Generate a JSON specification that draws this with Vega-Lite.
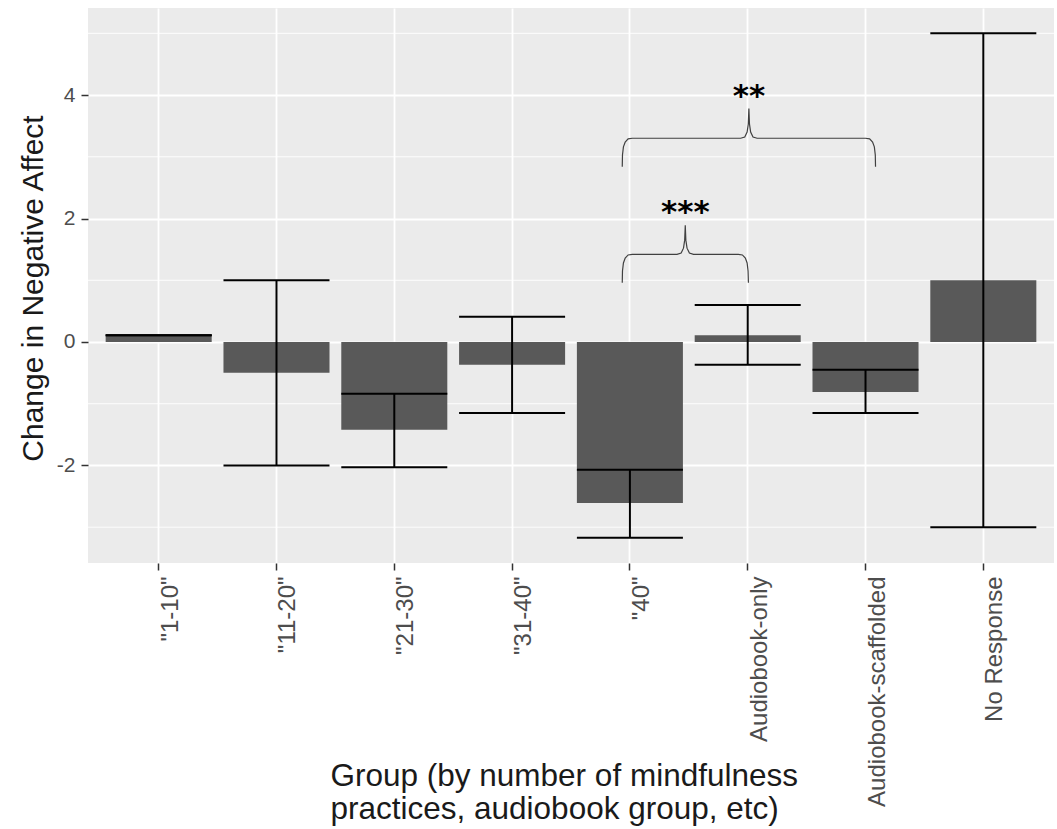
{
  "$schema": "https://vega.github.io/schema/vega-lite/v6.json",
  "width": 966,
  "height": 555,
  "autosize": {"type": "none"},
  "padding": {"left": 88, "top": 8, "right": 3, "bottom": 266},
  "background": "white",
  "config": {"view": {"fill": "#EBEBEB", "stroke": null}, "font": "Liberation Sans"},
  "datasets": {
    "groups": [
      {"group": "\"1-10\"", "mean": 0.12, "lo": 0.11, "hi": 0.11},
      {"group": "\"11-20\"", "mean": -0.5, "lo": -2.0, "hi": 1.0},
      {"group": "\"21-30\"", "mean": -1.42, "lo": -2.03, "hi": -0.84},
      {"group": "\"31-40\"", "mean": -0.37, "lo": -1.15, "hi": 0.41},
      {"group": "\"40\"", "mean": -2.61, "lo": -3.17, "hi": -2.07},
      {"group": "Audiobook-only", "mean": 0.11, "lo": -0.37, "hi": 0.6},
      {"group": "Audiobook-scaffolded", "mean": -0.81, "lo": -1.15, "hi": -0.45},
      {"group": "No Response", "mean": 1.0, "lo": -3.0, "hi": 5.0}
    ],
    "minor": [{"y": -3}, {"y": -1}, {"y": 1}, {"y": 3}, {"y": 5}],
    "brackets": [
      {"pair": "a", "x": 4.935, "y": 0.96},
      {"pair": "a", "x": 4.937, "y": 1.15},
      {"pair": "a", "x": 4.945, "y": 1.28},
      {"pair": "a", "x": 4.96, "y": 1.36},
      {"pair": "a", "x": 4.985, "y": 1.41},
      {"pair": "a", "x": 5.02, "y": 1.42},
      {"pair": "a", "x": 5.4, "y": 1.42},
      {"pair": "a", "x": 5.435, "y": 1.44},
      {"pair": "a", "x": 5.455, "y": 1.52},
      {"pair": "a", "x": 5.465, "y": 1.65},
      {"pair": "a", "x": 5.47, "y": 1.89},
      {"pair": "a", "x": 5.475, "y": 1.65},
      {"pair": "a", "x": 5.485, "y": 1.52},
      {"pair": "a", "x": 5.505, "y": 1.44},
      {"pair": "a", "x": 5.54, "y": 1.42},
      {"pair": "a", "x": 5.92, "y": 1.42},
      {"pair": "a", "x": 5.955, "y": 1.41},
      {"pair": "a", "x": 5.98, "y": 1.36},
      {"pair": "a", "x": 5.995, "y": 1.28},
      {"pair": "a", "x": 6.003, "y": 1.15},
      {"pair": "a", "x": 6.006, "y": 0.96},
      {"pair": "b", "x": 4.935, "y": 2.84},
      {"pair": "b", "x": 4.937, "y": 3.03},
      {"pair": "b", "x": 4.945, "y": 3.16},
      {"pair": "b", "x": 4.96, "y": 3.24},
      {"pair": "b", "x": 4.985, "y": 3.29},
      {"pair": "b", "x": 5.02, "y": 3.3},
      {"pair": "b", "x": 5.94, "y": 3.3},
      {"pair": "b", "x": 5.975, "y": 3.32},
      {"pair": "b", "x": 5.995, "y": 3.4},
      {"pair": "b", "x": 6.005, "y": 3.53},
      {"pair": "b", "x": 6.01, "y": 3.78},
      {"pair": "b", "x": 6.015, "y": 3.53},
      {"pair": "b", "x": 6.025, "y": 3.4},
      {"pair": "b", "x": 6.045, "y": 3.32},
      {"pair": "b", "x": 6.08, "y": 3.3},
      {"pair": "b", "x": 7.0, "y": 3.3},
      {"pair": "b", "x": 7.035, "y": 3.29},
      {"pair": "b", "x": 7.06, "y": 3.24},
      {"pair": "b", "x": 7.075, "y": 3.16},
      {"pair": "b", "x": 7.083, "y": 3.03},
      {"pair": "b", "x": 7.085, "y": 2.84}
    ],
    "stars": [
      {"label": "***", "x": 5.47, "y": 1.94},
      {"label": "**", "x": 6.01, "y": 3.83}
    ]
  },
  "resolve": {"scale": {"x": "independent"}},
  "layer": [
    {
      "layer": [
        {
          "data": {"name": "minor"},
          "mark": {"type": "rule", "color": "white", "strokeWidth": 0.9},
          "encoding": {
            "y": {"field": "y", "type": "quantitative", "scale": {"domain": [-3.58, 5.41], "nice": false, "zero": false}}
          }
        },
        {
          "data": {"name": "groups"},
          "mark": {"type": "bar", "color": "#595959"},
          "encoding": {
            "x": {
              "field": "group", "type": "nominal", "sort": null,
              "scale": {"paddingInner": 0.1, "paddingOuter": 0.15},
              "axis": {
                "labelAngle": 270, "labelAlign": "right", "labelBaseline": "top",
                "labelFontSize": 24, "labelColor": "#4D4D4D", "labelPadding": 6, "labelLimit": 400, "labelOverlap": false,
                "tickSize": 7, "tickColor": "#333333", "tickWidth": 1.5,
                "domain": false, "grid": true, "gridColor": "white", "gridWidth": 1.8,
                "title": ["Group (by number of mindfulness", "practices, audiobook group, etc)"],
                "titleFontSize": 31.5, "titleFontWeight": "normal", "titleColor": "#1A1A1A",
                "titleAlign": "left", "titleBaseline": "alphabetic", "titleAngle": 0,
                "titleX": 242, "titleY": 222, "titleLineHeight": 33
              }
            },
            "y": {
              "field": "mean", "type": "quantitative",
              "scale": {"domain": [-3.58, 5.41], "nice": false, "zero": false},
              "axis": {
                "values": [-2, 0, 2, 4],
                "labelExpr": "'' + datum.value",
                "labelFontSize": 21, "labelColor": "#4D4D4D", "labelPadding": 6,
                "tickSize": 7, "tickColor": "#333333", "tickWidth": 1.5,
                "domain": false, "grid": true, "gridColor": "white", "gridWidth": 1.8,
                "title": "Change in Negative Affect",
                "titleFontSize": 30, "titleFontWeight": "normal", "titleColor": "#1A1A1A",
                "titleAngle": 270, "titleAlign": "center", "titleBaseline": "alphabetic",
                "titleX": -46, "titleY": 280
              }
            }
          }
        },
        {
          "data": {"name": "groups"},
          "mark": {"type": "rule", "color": "black", "strokeWidth": 2},
          "encoding": {
            "x": {"field": "group", "type": "nominal", "sort": null},
            "y": {"field": "lo", "type": "quantitative"},
            "y2": {"field": "hi"}
          }
        },
        {
          "data": {"name": "groups"},
          "mark": {"type": "tick", "color": "black", "thickness": 2, "size": 106, "orient": "horizontal", "opacity": 1},
          "encoding": {
            "x": {"field": "group", "type": "nominal", "sort": null},
            "y": {"field": "lo", "type": "quantitative"}
          }
        },
        {
          "data": {"name": "groups"},
          "mark": {"type": "tick", "color": "black", "thickness": 2, "size": 106, "orient": "horizontal", "opacity": 1},
          "encoding": {
            "x": {"field": "group", "type": "nominal", "sort": null},
            "y": {"field": "hi", "type": "quantitative"}
          }
        }
      ]
    },
    {
      "layer": [
        {
          "data": {"name": "brackets"},
          "mark": {"type": "line", "color": "#404040", "strokeWidth": 1.2},
          "encoding": {
            "x": {"field": "x", "type": "quantitative", "scale": {"domain": [0.4, 8.6], "nice": false, "zero": false}, "axis": null},
            "y": {"field": "y", "type": "quantitative"},
            "detail": {"field": "pair"}
          }
        },
        {
          "data": {"name": "stars"},
          "mark": {"type": "text", "font": "DejaVu Sans", "fontWeight": "bold", "fontSize": 31, "align": "center", "baseline": "alphabetic", "color": "black"},
          "encoding": {
            "x": {"field": "x", "type": "quantitative"},
            "y": {"field": "y", "type": "quantitative"},
            "text": {"field": "label"}
          }
        }
      ]
    }
  ]
}
